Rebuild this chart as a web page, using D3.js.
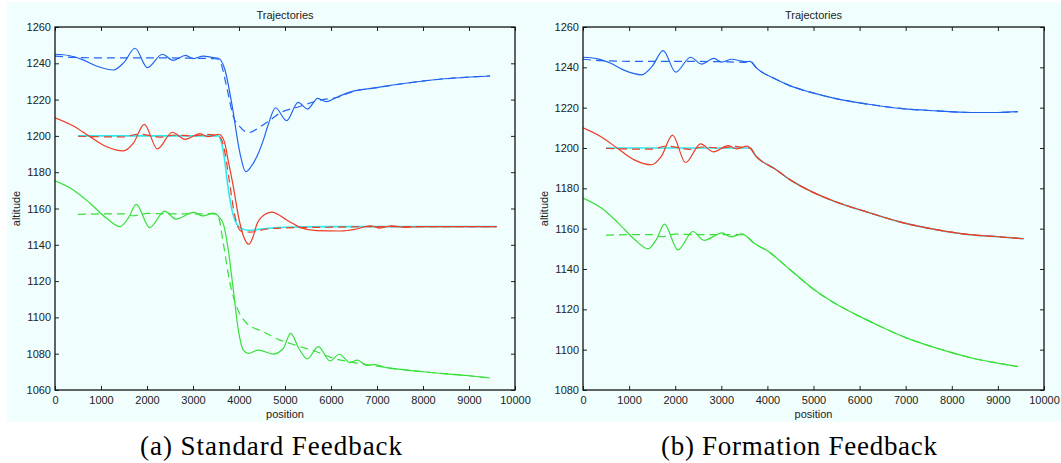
<!DOCTYPE html>
<html>
<head>
<meta charset="utf-8">
<script src="https://cdn.jsdelivr.net/npm/d3@7"></script>
<style>
  body { margin: 0; background: #fff; }
  text { font-family: "Liberation Sans", Arial, sans-serif; fill: #222; }
  .caption { font-family: "Liberation Serif", "DejaVu Serif", serif; fill: #000; }
</style>
</head>
<body>
<svg id="chart" width="1061" height="463"></svg>
<script>
/* ===============================
   Data (position, altitude)
================================ */

const xTicks = [0, 1000, 2000, 3000, 4000, 5000, 6000, 7000, 8000, 9000, 10000];
const yTicksA = [1060, 1080, 1100, 1120, 1140, 1160, 1180, 1200, 1220, 1240, 1260];
const yTicksB = [1080, 1100, 1120, 1140, 1160, 1180, 1200, 1220, 1240, 1260];

/* common start, identical in both runs */
const blueStart = [[0,1245],[300,1244.3],[600,1242],[900,1238.5],[1270,1236.3],[1500,1240.5],[1740,1248.3],
  [2010,1237.6],[2333,1245],[2570,1241.6],[2840,1244.4],[3007,1242.6],[3224,1244],[3442,1243.1],[3550,1242.8]];
const blueRefStart = [[0,1244],[400,1243.3],[1000,1243],[2000,1243],[3000,1242.8],[3500,1242.5]];
const redStart = [[0,1210],[399,1205.5],[761,1199.6],[1123,1194],[1486,1191.7],[1703,1196],[1942,1206.4],
  [2225,1192.8],[2551,1202],[2826,1198.1],[3152,1201.2],[3333,1199.6],[3565,1200.9]];
const redRefStart = [[500,1199.8],[1000,1199.5],[1500,1199.4],[1800,1201],[2100,1200],[2300,1199.3],
  [2600,1200.5],[3000,1200],[3300,1200.8],[3550,1200]];
const cyanStart = [[500,1200],[3000,1200],[3550,1200]];
const greenStart = [[0,1175.2],[399,1170.2],[761,1162.9],[1123,1154.6],[1413,1150],[1600,1155],[1765,1162.3],
  [2059,1149.5],[2383,1158.6],[2626,1154.2],[3015,1157.9],[3213,1155.9],[3450,1157.4]];
const greenRefStart = [[500,1156.8],[1000,1157],[1500,1157],[1700,1156],[2000,1157.3],[2500,1157],[3000,1157],[3450,1157]];

/* (a) standard feedback tails */
const blueTailA = [[3696,1236.3],[3841,1218],[4022,1190.4],[4145,1180.3],[4260,1183],[4389,1188.6],[4520,1197],
  [4646,1207],[4793,1215.5],[5035,1208.4],[5285,1218.5],[5491,1214.8],[5711,1220.7],[5896,1218.9],[6152,1221.6],
  [6483,1224.7],[6887,1226.2],[7622,1229],[8357,1231.2],[9459,1233]];
const blueRefTailA = [[3587,1241],[3732,1227],[3877,1210.6],[4022,1205],[4205,1201.8],[4463,1205.1],[4683,1208.8],
  [4903,1212.8],[5270,1215.8],[5785,1219.8],[6152,1221.3],[6483,1224.5],[6887,1226.2],[7622,1229],[8357,1231.2],[9459,1233]];
const redTailA = [[3680,1197],[3768,1186],[3877,1172],[3986,1156],[4094,1145],[4217,1140.3],[4300,1144],[4384,1151],
  [4550,1156.5],[4710,1158],[5036,1153.7],[5326,1149.6],[5688,1147.8],[6196,1147.6],[6558,1148.7],[6848,1150.5],
  [7065,1149.2],[7319,1150.4],[7600,1149.6],[8000,1150],[9601,1150]];
const redRefTailA = [[3620,1198],[3700,1190],[3790,1175],[3880,1160],[3960,1151],[4050,1147.5],[4239,1147],
  [4602,1148.7],[5000,1149.3],[6000,1149.7],[7000,1150],[9601,1150]];
const cyanTailA = [[3600,1198],[3680,1188],[3760,1172],[3840,1160],[3920,1153],[4022,1149.5],[4200,1148],
  [4600,1149],[5000,1149.7],[6000,1150],[9601,1150]];
const greenTailA = [[3560,1155.5],[3659,1151.5],[3768,1137],[3877,1115],[3986,1093],[4094,1082],[4203,1080.2],
  [4420,1082],[4746,1079.8],[4964,1083],[5123,1091.2],[5300,1083],[5485,1077.1],[5724,1083.9],[5978,1076],
  [6180,1079.7],[6413,1075.1],[6572,1076.5],[6776,1073.6],[6950,1074],[7210,1072.3],[7645,1071],[8225,1069.5],
  [8950,1068],[9457,1066.6]];
const greenRefTailA = [[3550,1155.5],[3659,1140.8],[3804,1118.8],[3949,1105.9],[4167,1096.8],[4529,1092.1],
  [4891,1087.5],[5072,1086],[5326,1083.9],[5688,1081.1],[6051,1077.5],[6413,1075.5],[6776,1074],[7210,1072.3],
  [7645,1071],[8225,1069.5],[8950,1068],[9457,1066.6]];

/* (b) formation feedback tails */
const blueTailB = [[3625,1243],[3750,1240],[3846,1238.2],[4141,1234.6],[4508,1230.7],[4948,1227.6],[5462,1224.6],
  [6197,1221.7],[6933,1219.5],[7667,1218.4],[8402,1217.6],[9000,1217.6],[9430,1218]];
const redTailB = [[3625,1200],[3750,1196],[3846,1194],[4141,1190],[4508,1184],[4948,1178.5],[5462,1173.5],
  [6197,1168],[6933,1163],[7667,1159.5],[8402,1157],[9000,1156],[9560,1155]];
const greenTailB = [[3530,1156.5],[3700,1153],[4000,1149],[4500,1139.5],[5000,1130],[5500,1122.5],[6000,1116.5],
  [6500,1111],[7000,1106],[7500,1102],[8000,1098.5],[8500,1095.5],[9000,1093.3],[9430,1091.6]];

/* ===============================
   Styles
================================ */

const BLUE = "#2264ee";
const RED = "#ef3b26";
const GREEN = "#38df38";
const CYAN = "#2ee9ee";

const panels = [
  {
    x0: 55, x1: 515, yTicks: yTicksA, caption: "(a) Standard Feedback", capX: 271, capW: 262,
    series: [
      { pts: cyanStart.concat(cyanTailA), color: CYAN, dash: null, w: 1.6 },
      { pts: redRefStart.concat(redRefTailA), color: RED, dash: "8,5", w: 1.2 },
      { pts: redStart.concat(redTailA), color: RED, dash: null, w: 1.2 },
      { pts: blueRefStart.concat(blueRefTailA), color: BLUE, dash: "8,5", w: 1.2 },
      { pts: blueStart.concat(blueTailA), color: BLUE, dash: null, w: 1.2 },
      { pts: greenRefStart.concat(greenRefTailA), color: GREEN, dash: "8,5", w: 1.2 },
      { pts: greenStart.concat(greenTailA), color: GREEN, dash: null, w: 1.2 }
    ]
  },
  {
    x0: 583, x1: 1044, yTicks: yTicksB, caption: "(b) Formation Feedback", capX: 799, capW: 276,
    series: [
      { pts: cyanStart.concat(redTailB), color: CYAN, dash: null, w: 1.6 },
      { pts: redRefStart.concat(redTailB), color: RED, dash: "8,5", w: 1.2 },
      { pts: redStart.concat(redTailB), color: RED, dash: null, w: 1.2 },
      { pts: blueRefStart.concat(blueTailB), color: BLUE, dash: "8,5", w: 1.2 },
      { pts: blueStart.concat(blueTailB), color: BLUE, dash: null, w: 1.2 },
      { pts: greenRefStart.concat(greenTailB), color: GREEN, dash: "8,5", w: 1.2 },
      { pts: greenStart.concat(greenTailB), color: GREEN, dash: null, w: 1.2 }
    ]
  }
];

const TOP = 27;
const BOTTOM = 390;

/* ===============================
   Render
================================ */

const svg = d3.select("#chart");

svg.append("rect")
  .attr("x", 7).attr("y", 2)
  .attr("width", 1054).attr("height", 420)
  .attr("fill", "#f0fefe");

panels.forEach(drawPanel);

function drawPanel(p) {
  const x = d3.scaleLinear().domain([0, 10000]).range([p.x0, p.x1]);
  const y = d3.scaleLinear()
    .domain([p.yTicks[0], p.yTicks[p.yTicks.length - 1]])
    .range([BOTTOM, TOP]);

  const g = svg.append("g");

  const line = d3.line()
    .x(d => x(d[0]))
    .y(d => y(d[1]))
    .curve(d3.curveMonotoneX);

  const clipId = "clip" + p.x0;
  svg.append("clipPath").attr("id", clipId)
    .append("rect")
    .attr("x", p.x0).attr("y", TOP)
    .attr("width", p.x1 - p.x0).attr("height", BOTTOM - TOP);

  g.append("g")
    .attr("clip-path", `url(#${clipId})`)
    .selectAll("path")
    .data(p.series)
    .join("path")
    .attr("d", d => line(d.pts))
    .attr("fill", "none")
    .attr("stroke", d => d.color)
    .attr("stroke-width", d => d.w)
    .attr("stroke-dasharray", d => d.dash);

  /* -------- AXES (ticks pointing inward) -------- */

  const axisStyle = sel => {
    sel.select(".domain").remove();
    sel.selectAll("line").attr("stroke", "#222");
    sel.selectAll("text").style("font-size", "11px").attr("fill", "#222");
  };

  g.append("g")
    .attr("transform", `translate(0,${BOTTOM})`)
    .call(d3.axisBottom(x).tickValues(xTicks).tickSize(-4).tickPadding(6).tickFormat(d3.format("d")))
    .call(axisStyle);

  g.append("g")
    .attr("transform", `translate(0,${TOP})`)
    .call(d3.axisTop(x).tickValues(xTicks).tickSize(-4).tickFormat(""))
    .call(axisStyle);

  g.append("g")
    .attr("transform", `translate(${p.x0},0)`)
    .call(d3.axisLeft(y).tickValues(p.yTicks).tickSize(-4).tickPadding(4).tickFormat(d3.format("d")))
    .call(axisStyle);

  g.append("g")
    .attr("transform", `translate(${p.x1},0)`)
    .call(d3.axisRight(y).tickValues(p.yTicks).tickSize(-4).tickFormat(""))
    .call(axisStyle);

  g.append("rect")
    .attr("x", p.x0).attr("y", TOP)
    .attr("width", p.x1 - p.x0).attr("height", BOTTOM - TOP)
    .attr("fill", "none")
    .attr("stroke", "#111")
    .attr("stroke-width", 1.3);

  /* -------- LABELS -------- */

  const cx = (p.x0 + p.x1) / 2;

  g.append("text")
    .attr("x", cx).attr("y", 19)
    .attr("text-anchor", "middle")
    .style("font-size", "11px")
    .text("Trajectories");

  g.append("text")
    .attr("x", cx).attr("y", 418)
    .attr("text-anchor", "middle")
    .style("font-size", "11px")
    .text("position");

  g.append("text")
    .attr("transform", `translate(${p.x0 - 35},${(TOP + BOTTOM) / 2}) rotate(-90)`)
    .attr("text-anchor", "middle")
    .style("font-size", "11px")
    .text("altitude");

  g.append("text")
    .attr("class", "caption")
    .attr("x", p.capX - p.capW / 2).attr("y", 455)
    .attr("textLength", p.capW)
    .attr("lengthAdjust", "spacing")
    .style("font-size", "27px")
    .text(p.caption);
}
</script>
</body>
</html>
